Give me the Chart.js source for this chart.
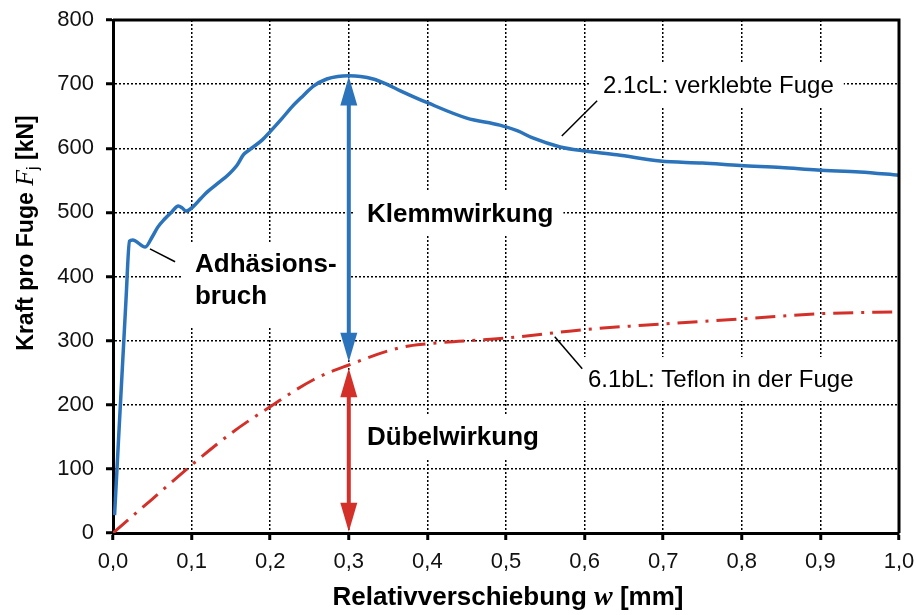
<!DOCTYPE html>
<html>
<head>
<meta charset="utf-8">
<script src="https://cdn.jsdelivr.net/npm/chart.js@4/dist/chart.umd.min.js"></script>
<style>
  html, body { margin: 0; padding: 0; background: #fff; }
  #wrap { width: 916px; height: 615px; }
</style>
</head>
<body>
<div id="wrap"><canvas id="chart"></canvas></div>
<script>
// === Daten ===
const verklebtW = [0.002, 0.0165, 0.021, 0.025, 0.041, 0.05, 0.057, 0.066, 0.075, 0.083, 0.088, 0.093, 0.102, 0.112, 0.12, 0.134, 0.146, 0.158, 0.166, 0.174, 0.19, 0.2, 0.214, 0.228, 0.242, 0.255, 0.272, 0.286, 0.3, 0.315, 0.331, 0.348, 0.365, 0.4, 0.45, 0.492, 0.515, 0.534, 0.569, 0.598, 0.641, 0.696, 0.75, 0.798, 0.85, 0.896, 0.95, 1.0];
const verklebtF = [28, 363, 455, 457, 446, 462, 477, 490, 501, 510, 507, 502, 509, 522, 532, 546, 558, 574, 590, 598, 613, 626, 645, 665, 682, 697, 708, 712, 713, 712, 708, 700, 690, 671, 647, 636, 627, 616, 602, 596, 590, 580, 577, 573, 570, 566, 563, 558];

const teflonW = [0, 0.05, 0.1, 0.153, 0.2, 0.255, 0.3, 0.365, 0.4, 0.5, 0.598, 0.7, 0.8, 0.9, 1.0];
const teflonF = [0, 53, 106, 158, 197, 239, 262, 289, 295, 304, 317, 326, 334, 342, 345];

const xTicks = [0, 0.1, 0.2, 0.3, 0.4, 0.5, 0.6, 0.7, 0.8, 0.9, 1.0];
const yTicks = [0, 100, 200, 300, 400, 500, 600, 700, 800];

// Pfeile bei w = 0,3 mm
const arrowW = 0.3;
const klemmRange = [267, 712];
const duebelRange = [2, 257];

const BLUE = '#2b73ba';
const RED = '#d3302a';
const SANS = "'Liberation Sans', Arial, sans-serif";
const SERIF = "'Liberation Serif', 'Times New Roman', serif";

// === Helfer ===
function arrowHead(ctx, x, yTip, dir, color) {
    // dir = -1 nach oben, +1 nach unten
    ctx.fillStyle = color;
    ctx.beginPath();
    ctx.moveTo(x, yTip);
    ctx.lineTo(x - 8.5, yTip - dir * 29);
    ctx.lineTo(x + 8.5, yTip - dir * 29);
    ctx.closePath();
    ctx.fill();
}

function doubleArrow(ctx, xs, ys, range, color) {
    const x = xs.getPixelForValue(arrowW);
    const yTop = ys.getPixelForValue(range[1]);
    const yBot = ys.getPixelForValue(range[0]);
    ctx.strokeStyle = color;
    ctx.lineWidth = 4;
    ctx.beginPath();
    ctx.moveTo(x, yTop + 20);
    ctx.lineTo(x, yBot - 20);
    ctx.stroke();
    arrowHead(ctx, x, yTop, -1, color);
    arrowHead(ctx, x, yBot, 1, color);
}

// Beschriftungen
const labels = [
    { lines: ['Klemmwirkung'], w: 0.3232, f: 497.5, font: 'bold 26px ' + SANS },
    { lines: ['Dübelwirkung'], w: 0.3232, f: 149.7, font: 'bold 26px ' + SANS },
    { lines: ['Adhäsions-', 'bruch'], w: 0.1043, f: 419.5, font: 'bold 26px ' + SANS },
    { lines: ['2.1cL: verklebte Fuge'], w: 0.6234, f: 698.6, font: '24px ' + SANS },
    { lines: ['6.1bL: Teflon in der Fuge'], w: 0.6043, f: 240, font: '24px ' + SANS }
];

// Hinweislinien [w1, F1, w2, F2]
const leaders = [
    [0.047, 443, 0.079, 423],
    [0.571, 619, 0.616, 674],
    [0.562, 306, 0.597, 256]
];

const annotations = {
    id: 'annotations',
    beforeDatasetsDraw(chart) {
        const { ctx, scales: { x, y } } = chart;
        ctx.save();
        ctx.fillStyle = '#fff';
        labels.forEach(l => {
            ctx.font = l.font;
            const w = Math.max(...l.lines.map(t => ctx.measureText(t).width));
            const left = x.getPixelForValue(l.w);
            const top = y.getPixelForValue(l.f) - 22;
            const h = 44 + (l.lines.length - 1) * 40;
            ctx.fillRect(left - 14, top, w + 24, h);
        });
        ctx.restore();
    },
    afterDatasetsDraw(chart) {
        const { ctx, chartArea: a, scales: { x, y } } = chart;
        ctx.save();

        doubleArrow(ctx, x, y, klemmRange, BLUE);
        doubleArrow(ctx, x, y, duebelRange, RED);

        ctx.strokeStyle = '#000';
        ctx.lineWidth = 1.5;
        leaders.forEach(p => {
            ctx.beginPath();
            ctx.moveTo(x.getPixelForValue(p[0]), y.getPixelForValue(p[1]));
            ctx.lineTo(x.getPixelForValue(p[2]), y.getPixelForValue(p[3]));
            ctx.stroke();
        });

        ctx.fillStyle = '#000';
        ctx.textBaseline = 'middle';
        ctx.textAlign = 'left';
        labels.forEach(l => {
            ctx.font = l.font;
            l.lines.forEach((t, i) => {
                ctx.fillText(t, x.getPixelForValue(l.w), y.getPixelForValue(l.f) + i * 32 + 1);
            });
        });

        // Rahmen oben und rechts
        ctx.lineWidth = 3;
        ctx.beginPath();
        ctx.moveTo(a.left, a.top);
        ctx.lineTo(a.right, a.top);
        ctx.lineTo(a.right, a.bottom);
        ctx.stroke();
        ctx.restore();
    },
    afterDraw(chart) {
        const { ctx } = chart;
        ctx.save();
        ctx.fillStyle = '#000';
        ctx.textBaseline = 'alphabetic';
        ctx.textAlign = 'left';

        // x-Achsentitel
        const xParts = [
            ['Relativverschiebung ', 'bold 26px ' + SANS, 0],
            ['w', 'italic bold 28px ' + SERIF, 0],
            [' [mm]', 'bold 26px ' + SANS, 0]
        ];
        drawParts(ctx, xParts, 508, 605);

        // y-Achsentitel
        ctx.translate(33, 233);
        ctx.rotate(-Math.PI / 2);
        const yParts = [
            ['Kraft pro Fuge ', 'bold 23px ' + SANS, 0],
            ['F', 'italic 26px ' + SERIF, 0],
            ['j', '16px ' + SANS, 5],
            [' [kN]', 'bold 23px ' + SANS, 0]
        ];
        drawParts(ctx, yParts, 0, 0);
        ctx.restore();
    }
};

function drawParts(ctx, parts, cx, baseY) {
    let total = 0;
    parts.forEach(p => { ctx.font = p[1]; total += ctx.measureText(p[0]).width; });
    let xPos = cx - total / 2;
    parts.forEach(p => {
        ctx.font = p[1];
        ctx.fillText(p[0], xPos, baseY + p[2]);
        xPos += ctx.measureText(p[0]).width;
    });
}

// === Diagramm ===
document.addEventListener('DOMContentLoaded', function() {
    Chart.defaults.font.family = SANS;
    Chart.defaults.color = '#111';

    const ctx = document.getElementById('chart').getContext('2d');
    new Chart(ctx, {
        type: 'scatter',
        data: {
            datasets: [
                {
                    label: '2.1cL: verklebte Fuge',
                    data: verklebtW.map((w, i) => ({ x: w, y: verklebtF[i] })),
                    showLine: true,
                    borderColor: BLUE,
                    borderWidth: 3.5,
                    pointRadius: 0,
                    cubicInterpolationMode: 'monotone'
                },
                {
                    label: '6.1bL: Teflon in der Fuge',
                    data: teflonW.map((w, i) => ({ x: w, y: teflonF[i] })),
                    showLine: true,
                    borderColor: RED,
                    borderWidth: 3,
                    borderDash: [20, 8, 3, 8],
                    pointRadius: 0,
                    cubicInterpolationMode: 'monotone'
                }
            ]
        },
        options: {
            responsive: true,
            maintainAspectRatio: false,
            animation: false,
            layout: { padding: { left: 0, top: 20, right: 17, bottom: 0 } },
            plugins: {
                legend: { display: false },
                tooltip: { enabled: false }
            },
            scales: {
                x: {
                    type: 'linear',
                    min: 0,
                    max: 1,
                    afterBuildTicks: s => { s.ticks = xTicks.map(v => ({ value: v })); },
                    afterFit: s => { s.height = 82; s.paddingLeft = 0; s.paddingRight = 0; },
                    grid: { color: '#000', lineWidth: 1.5, tickColor: '#000', tickWidth: 3, tickLength: 7 },
                    border: { display: true, color: '#000', width: 3, dash: [2, 2] },
                    ticks: {
                        padding: 9,
                        maxRotation: 0,
                        font: { size: 22 },
                        callback: v => v.toFixed(1).replace('.', ',')
                    }
                },
                y: {
                    min: 0,
                    max: 800,
                    afterBuildTicks: s => { s.ticks = yTicks.map(v => ({ value: v })); },
                    afterFit: s => { s.width = 113; s.paddingTop = 0; s.paddingBottom = 0; },
                    grid: { color: '#000', lineWidth: 1.5, tickColor: '#000', tickWidth: 3, tickLength: 7 },
                    border: { display: true, color: '#000', width: 3, dash: [2, 2] },
                    ticks: {
                        padding: 12,
                        font: { size: 22 },
                        callback: v => String(v)
                    }
                }
            }
        },
        plugins: [annotations]
    });
});
</script>
</body>
</html>
